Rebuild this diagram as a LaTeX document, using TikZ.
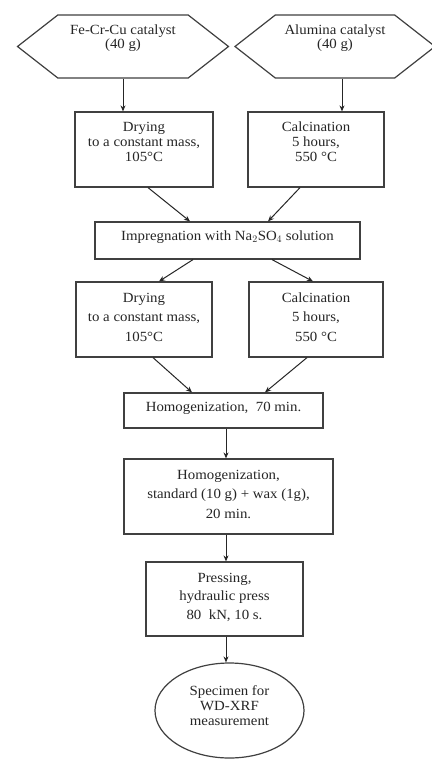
\documentclass[tikz,border=0pt]{standalone}
\usepackage{fontspec}
\setmainfont{Liberation Serif}[FakeStretch=1.06]
\usetikzlibrary{arrows.meta,shapes.geometric,shapes.symbols}
\newcommand\mylines[3]{\raisebox{#1}[\height][\depth]{\renewcommand\arraystretch{#2}\begin{tabular}{@{}c@{}}#3\end{tabular}}}
\begin{document}
\begin{tikzpicture}[x=1pt,y=-1pt,
  every node/.style={font=\fontsize{14}{15}\selectfont, text=black!85, inner sep=0pt},
  boxs/.style={draw=black!75, line width=1.2pt, rectangle},
  hexs/.style={draw=black!75, line width=1.2pt, signal, signal to=west and east, signal pointer angle=76, minimum height=63pt},
  ovals/.style={draw=black!75, line width=1.2pt, ellipse},
  arr/.style={draw=black!85, line width=1pt, -{Stealth[length=6pt,width=5pt]}}]
\useasboundingbox (0,0) rectangle (431,760);
\fill[white] (0,0) rectangle (431,760);

\node[hexs, minimum width=211pt] (h1) at (123,46.5) {\mylines{8pt}{0.87}{Fe-Cr-Cu catalyst\\(40 g)}};
\node[hexs, minimum width=200pt] (h2) at (335,46.5) {\mylines{8pt}{0.87}{Alumina catalyst\\(40 g)}};

\node[boxs, minimum width=138pt, minimum height=75pt] (d1) at (144,149.5) {\mylines{6.5pt}{1}{Drying\\to a constant mass,\\105°C}};
\node[boxs, minimum width=136pt, minimum height=75pt] (c1) at (316,149.5) {\mylines{6.5pt}{1}{Calcination\\5 hours,\\550 °C}};

\node[boxs, minimum width=265pt, minimum height=37pt] (imp) at (227.5,240.5) {\mylines{3.5pt}{1}{Impregnation with Na$_2$SO$_4$ solution}};

\node[boxs, minimum width=136pt, minimum height=75pt] (d2) at (144,319.5) {\mylines{1.5pt}{1.3}{Drying\\to a constant mass,\\105°C}};
\node[boxs, minimum width=134pt, minimum height=75pt] (c2) at (316,319.5) {\mylines{1.5pt}{1.3}{Calcination\\5 hours,\\550 °C}};

\node[boxs, minimum width=199pt, minimum height=35pt] (hom1) at (223.5,410.5) {\mylines{2.5pt}{1}{Homogenization,\ \ 70 min.}};
\node[boxs, minimum width=209pt, minimum height=75pt] (hom2) at (228.5,496.5) {\mylines{1.5pt}{1.3}{Homogenization,\\standard (10 g) + wax (1g),\\20 min.}};
\node[boxs, minimum width=157pt, minimum height=74pt] (press) at (224.5,599) {\mylines{2pt}{1.25}{Pressing,\\hydraulic press\\80\ \ kN, 10 s.}};
\node[ovals, minimum width=149pt, minimum height=95pt] (spec) at (229.5,710.5) {\mylines{3.5pt}{1}{Specimen for\\WD-XRF\\measurement}};

\draw[arr] (h1.south) -- (h1.south |- d1.north);
\draw[arr] ([xshift=7pt]h2.south) -- ([xshift=7pt]h2.south |- c1.north);
\draw[arr] ([xshift=4pt]d1.south) -- ([xshift=-37.5pt]imp.north);
\draw[arr] ([xshift=-16pt]c1.south) -- ([xshift=40.5pt]imp.north);
\draw[arr] ([xshift=-34.5pt]imp.south) -- ([xshift=15pt]d2.north);
\draw[arr] ([xshift=44.5pt]imp.south) -- ([xshift=-3pt]c2.north);
\draw[arr] ([xshift=9pt]d2.south) -- ([xshift=-31.5pt]hom1.north);
\draw[arr] ([xshift=-9pt]c2.south) -- ([xshift=41.5pt]hom1.north);
\draw[arr] ([xshift=2.5pt]hom1.south) -- ([xshift=-2.5pt]hom2.north);
\draw[arr] ([xshift=-2.5pt]hom2.south) -- ([xshift=1.5pt]press.north);
\draw[arr] ([xshift=1.5pt]press.south) -- ([xshift=-3.5pt]spec.north);
\end{tikzpicture}
\end{document}
